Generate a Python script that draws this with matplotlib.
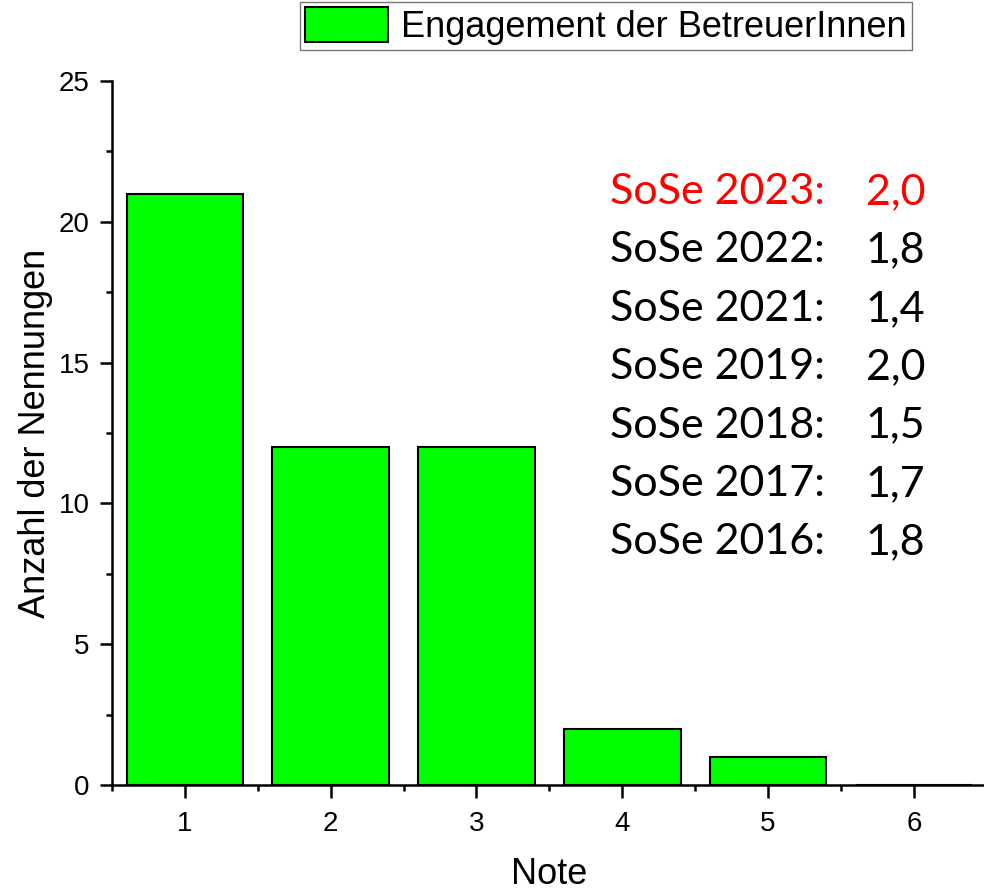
import matplotlib
matplotlib.use("Agg")
import matplotlib.pyplot as plt
from matplotlib.ticker import MultipleLocator
from matplotlib.patches import Patch

notes = [1, 2, 3, 4, 5, 6]
counts = [21, 12, 12, 2, 1, 0]
series_label = "Engagement der BetreuerInnen"
semesters = ["SoSe 2023:", "SoSe 2022:", "SoSe 2021:", "SoSe 2019:", "SoSe 2018:", "SoSe 2017:", "SoSe 2016:"]
averages = ["2,0", "1,8", "1,4", "2,0", "1,5", "1,7", "1,8"]
text_colors = ["#ff0000", "black", "black", "black", "black", "black", "black"]

plt.rcParams['font.family'] = ['Liberation Sans', 'DejaVu Sans']

fig = plt.figure(figsize=(9.84, 8.94), dpi=100)
ax = fig.add_axes([0.1138, 0.1219, 0.889, 0.7875])

ax.bar(notes, counts, width=0.8, color="#00ff00", edgecolor="black", linewidth=1.5, zorder=2)

ax.set_xlim(0.5, 6.5)
ax.set_ylim(0, 25)
ax.xaxis.set_major_locator(MultipleLocator(1))
ax.xaxis.set_minor_locator(MultipleLocator(0.5))
ax.yaxis.set_major_locator(MultipleLocator(5))
ax.yaxis.set_minor_locator(MultipleLocator(2.5))

for s in ["top", "right"]:
    ax.spines[s].set_visible(False)
for s in ["left", "bottom"]:
    ax.spines[s].set_linewidth(1.8)
    ax.spines[s].set_zorder(3)

ax.tick_params(which="major", direction="out", length=9, width=1.8, labelsize=20)
ax.tick_params(axis="x", which="major", pad=10)
ax.tick_params(axis="y", which="major", pad=7)
ax.tick_params(which="minor", direction="out", length=4.5, width=1.8)

ax.set_xlabel("Note", fontsize=26, labelpad=14)
ax.set_ylabel("Anzahl der Nennungen", fontsize=26, labelpad=4)

# annotation text block
y0 = 21.06
dy = 2.074
for i, (sem, avg, c) in enumerate(zip(semesters, averages, text_colors)):
    y = y0 - i * dy
    ax.text(3.916, y, sem, color=c, fontsize=31, family=['Lato', 'DejaVu Sans'], va="center", ha="left")
    ax.text(5.67, y, avg, color=c, fontsize=31, family=['Lato', 'DejaVu Sans'], va="center", ha="left")

handles = [Patch(facecolor="#00ff00", edgecolor="black", linewidth=1.5)]
leg = fig.legend(handles, [series_label], loc="upper left", bbox_to_anchor=(300 / 984, 1 - 2 / 894),
                 fontsize=26, frameon=True, fancybox=False, handlelength=2.3, handleheight=1.1,
                 borderpad=0.15, handletextpad=0.35, borderaxespad=0)
leg.get_frame().set_edgecolor("#555555")
leg.get_frame().set_linewidth(1.0)

fig.savefig("out.png", dpi=100)
